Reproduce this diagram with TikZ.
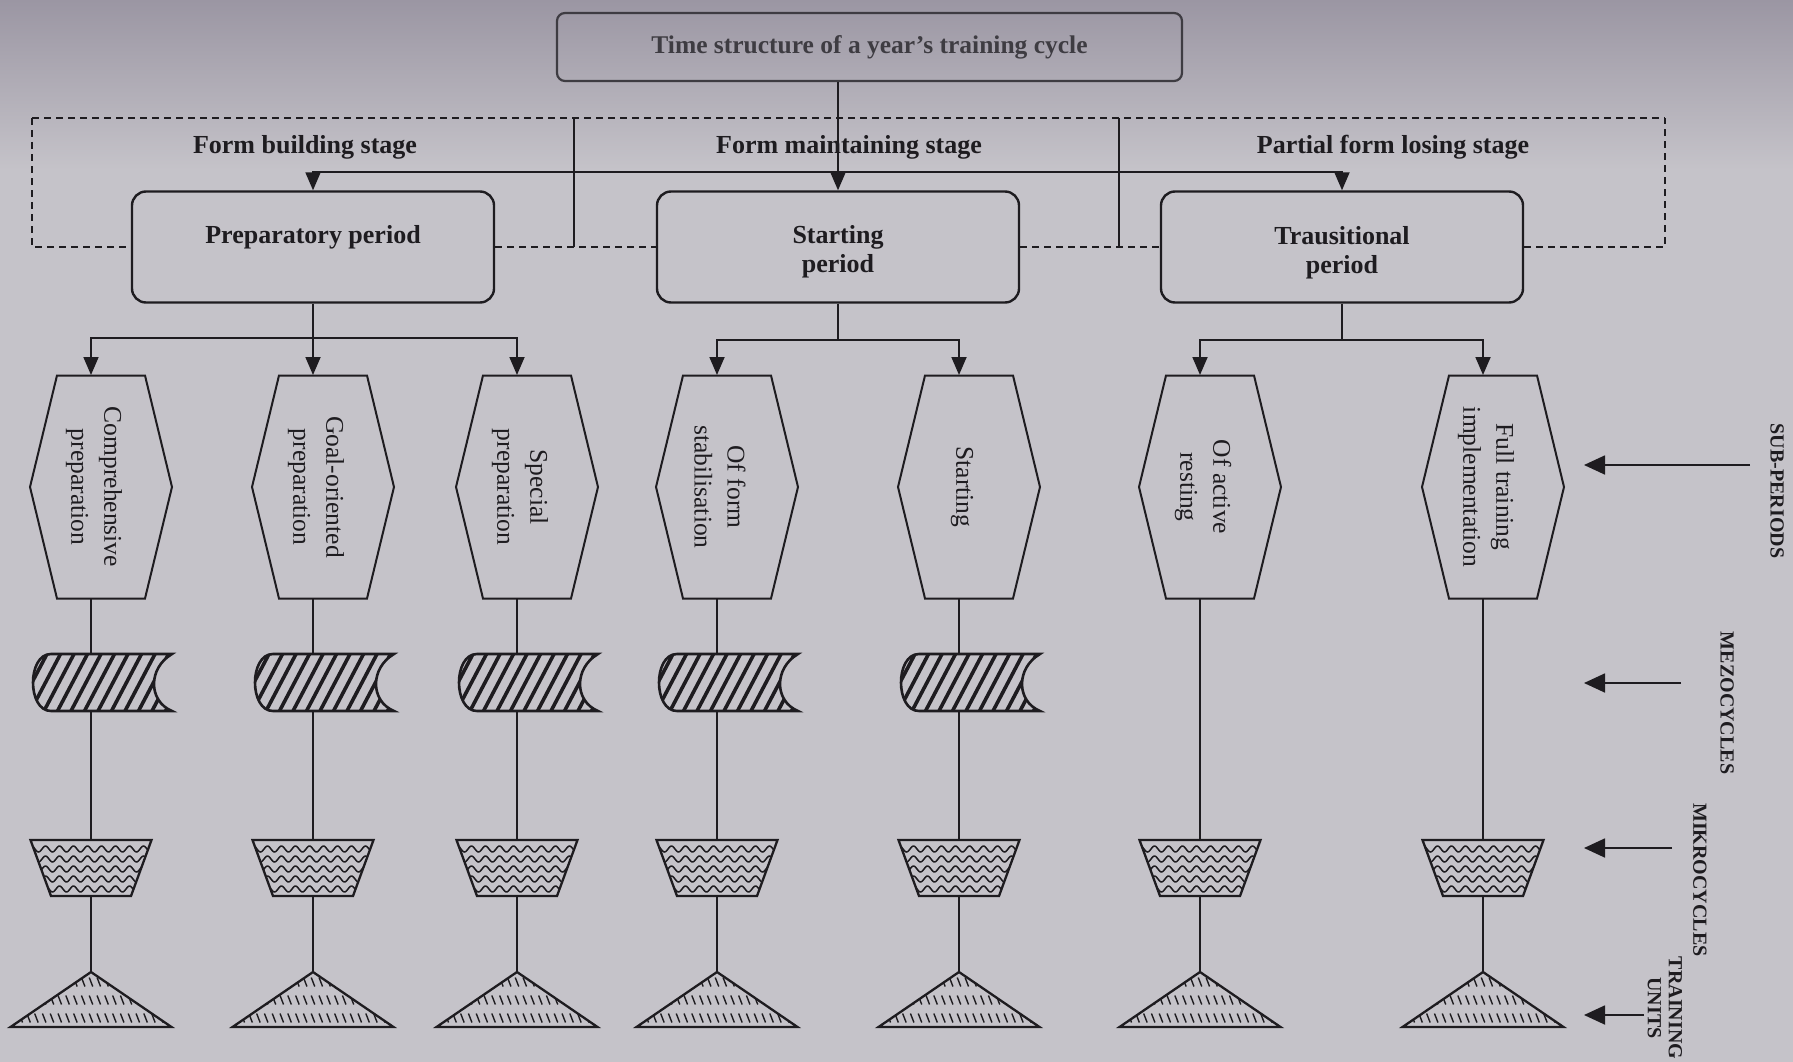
\documentclass[tikz,border=0pt]{standalone}
\usepackage{fontspec}
\setmainfont{Liberation Serif}
\usetikzlibrary{arrows.meta,calc}
\definecolor{bg}{RGB}{197,195,201}
\definecolor{bgtop}{RGB}{155,150,163}
\definecolor{ink}{RGB}{30,28,32}
\definecolor{softink}{RGB}{62,60,66}
\tikzset{
  conn/.style={draw=ink, line width=1.8pt},
  dashln/.style={draw=ink, line width=1.8pt, dash pattern=on 7pt off 5pt},
  downtip/.style={-{Triangle[width=15pt,length=18pt]}},
  sidetip/.style={-{Triangle[width=19pt,length=21pt]}},
  periodbox/.style={draw=ink, line width=2.4pt, rounded corners=14pt,
    minimum width=362pt, minimum height=111pt, inner sep=0pt},
  boxtext/.style={align=center, inner sep=0pt,
    font=\fontsize{26}{29}\selectfont\bfseries, text=ink},
  topbox/.style={draw=softink, line width=2.2pt, rounded corners=8pt,
    minimum width=625pt, minimum height=68pt, inner sep=0pt,
    font=\fontsize{25.5}{28}\selectfont\bfseries, text=softink},
  stagelbl/.style={font=\fontsize{26}{29}\selectfont\bfseries, text=ink, inner sep=0pt},
  hextext/.style={rotate=-90, align=center, font=\fontsize{25.5}{33}\selectfont, text=ink, inner sep=0pt},
  sidelbl/.style={rotate=-90, align=center, font=\fontsize{20}{21}\selectfont\bfseries, text=ink, inner sep=0pt},
  shapeln/.style={draw=ink, line width=2.3pt, line join=miter},
  hexln/.style={draw=ink, line width=2pt, line join=miter},
  hatch/.style={draw=ink, line width=3.6pt},
  wave/.style={draw=ink, line width=1.5pt},
  tick/.style={draw=ink, line width=1.4pt},
}
\begin{document}
\begin{tikzpicture}[x=1pt,y=-1pt]
\useasboundingbox (0,0) rectangle (1793,1062);
\fill[bg] (0,0) rectangle (1793,1062);
\shade[top color=bgtop, bottom color=bg] (0,0) rectangle (1793,170);

% main boxes
\node[topbox] (top) at (869.5,47) {Time structure of a year's training cycle};
\node[periodbox] (prep) at (313,247) {};
\node[periodbox] (start) at (838,247) {};
\node[periodbox] (trans) at (1342,247) {};
\node[boxtext] (preptx) at (313,237) {Preparatory period};
\node[boxtext] (starttx) at (838,252) {Starting\\period};
\node[boxtext] (transtx) at (1342,253) {Trausitional\\period};

% stage labels
\node[stagelbl] (st1) at (305,147) {Form building stage};
\node[stagelbl] (st2) at (849,147) {Form maintaining stage};
\node[stagelbl] (st3) at (1393,147) {Partial form losing stage};

% dashed frame
\coordinate (dl) at (32,118);
\coordinate (dr) at (1665,118);
\coordinate (v1) at (574,118);
\coordinate (v2) at (1119,118);
\draw[dashln] (dl) -- (dr);
\draw[dashln] (dl) |- (prep.west);
\draw[dashln] (prep.east) -- (start.west);
\draw[dashln] (start.east) -- (trans.west);
\draw[dashln] (trans.east) -| (dr);
\draw[conn] (v1) -- (v1 |- prep.west);
\draw[conn] (v2) -- (v2 |- start.east);

% top arrows
\coordinate (hj) at (838,172);
\draw[conn,downtip] (start.north |- top.south) -- (start.north);
\draw[conn,downtip] (hj) -| (prep.north);
\draw[conn,downtip] (hj) -| (trans.north);

% columns
\foreach \c/\lx/\txt/\mz in {1/91/{Comprehensive\\preparation}/1,
  2/313/{Goal-oriented\\preparation}/1,
  3/517/{Special\\preparation}/1,
  4/717/{Of form\\stabilisation}/1,
  5/959/{Starting}/1,
  6/1200/{Of active\\resting}/0,
  7/1483/{Full training\\implementation}/0}{
  \coordinate (hxt\c) at (\lx,375);
  \coordinate (hxb\c) at (\lx,598);
  \begin{scope}[shift={(\lx+10,487)}]
    \draw[hexln] (-44,-111.5) -- (44,-111.5) -- (71,0) -- (44,111.5) -- (-44,111.5) -- (-71,0) -- cycle;
  \end{scope}
  \node[hextext] (tx\c) at (\lx+3,487) {\txt};
  % mikrocycle trapezoid
  \coordinate (mit\c) at (\lx,840);
  \coordinate (mib\c) at (\lx,896);
  \begin{scope}[shift={(\lx,840)}]
    \begin{scope}
      \clip (-60.5,0) -- (60.5,0) -- (40,56) -- (-40,56) -- cycle;
      \foreach \r in {9,19,29,39,49}
        \draw[wave] plot[variable=\t, domain=-64:64, samples=110, smooth] (\t,{\r+3*sin(25.714*\t)});
    \end{scope}
    \draw[shapeln] (-60.5,0) -- (60.5,0) -- (40,56) -- (-40,56) -- cycle;
  \end{scope}
  % training unit triangle
  \coordinate (tra\c) at (\lx,972);
  \begin{scope}[shift={(\lx,972)}]
    \begin{scope}
      \clip (0,0) -- (80.5,55) -- (-80.5,55) -- cycle;
      \foreach \r in {10,28,46}
        \foreach \k in {-11,...,11}
          \draw[tick] (\k*7.8-1.75,\r-4.5) -- ++(3.5,9);
    \end{scope}
    \draw[shapeln] (0,0) -- (80.5,55) -- (-80.5,55) -- cycle;
  \end{scope}
  \ifnum\mz=1
    \coordinate (mzt\c) at (\lx,654);
    \coordinate (mzb\c) at (\lx,711);
    \begin{scope}[shift={(\lx,654)}]
      \begin{scope}
        \clip (-40,0) -- (81,0) .. controls (57,14) and (57,47) .. (81,57) -- (-40,57) .. controls (-64,57) and (-64,0) .. (-40,0) -- cycle;
        \foreach \k in {-6,...,11}
          \draw[hatch] (\k*13.5-20,57) -- ++(30,-57);
      \end{scope}
      \draw[shapeln, line width=2.6pt] (-40,0) -- (81,0) .. controls (57,14) and (57,47) .. (81,57) -- (-40,57) .. controls (-64,57) and (-64,0) .. (-40,0) -- cycle;
    \end{scope}
    \draw[conn] (hxb\c) -- (mzt\c);
    \draw[conn] (mzb\c) -- (mit\c);
  \else
    \draw[conn] (hxb\c) -- (mit\c);
  \fi
  \draw[conn] (mib\c) -- (tra\c);
}

% branches from periods
\coordinate (bp) at (313,338);
\coordinate (bs) at (838,340);
\coordinate (bt) at (1342,340);
\draw[conn] (prep.south) -- (bp);
\draw[conn,downtip] (bp) -| (hxt1);
\draw[conn,downtip] (bp) -- (hxt2);
\draw[conn,downtip] (bp) -| (hxt3);
\draw[conn] (start.south) -- (bs);
\draw[conn,downtip] (bs) -| (hxt4);
\draw[conn,downtip] (bs) -| (hxt5);
\draw[conn] (trans.south) -- (bt);
\draw[conn,downtip] (bt) -| (hxt6);
\draw[conn,downtip] (bt) -| (hxt7);

% side labels
\coordinate (a1s) at (1750,465); \coordinate (a1e) at (1584,465);
\coordinate (a2s) at (1681,683); \coordinate (a2e) at (1584,683);
\coordinate (a3s) at (1672,848); \coordinate (a3e) at (1584,848);
\coordinate (a4s) at (1644,1015); \coordinate (a4e) at (1584,1015);
\draw[conn,sidetip] (a1s) -- (a1e);
\draw[conn,sidetip] (a2s) -- (a2e);
\draw[conn,sidetip] (a3s) -- (a3e);
\draw[conn,sidetip] (a4s) -- (a4e);
\node[sidelbl] (l1) at (1777,491) {SUB-PERIODS};
\node[sidelbl] (l2) at (1727,703) {MEZOCYCLES};
\node[sidelbl] (l3) at (1700,880) {MIKROCYCLES};
\node[sidelbl] (l4) at (1665,1008) {TRAINING\\UNITS};
\end{tikzpicture}
\end{document}
